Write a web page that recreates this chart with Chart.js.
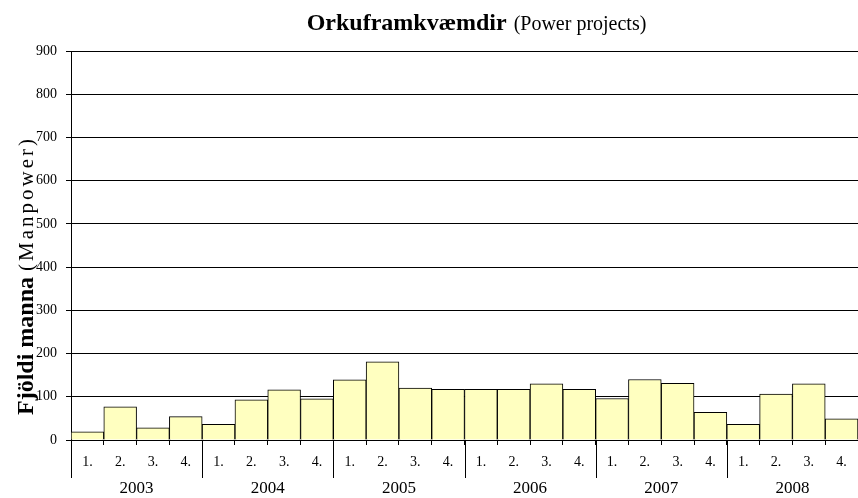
<!DOCTYPE html>
<html><head><meta charset="utf-8">
<script src="https://cdn.jsdelivr.net/npm/chart.js@4/dist/chart.umd.min.js"></script>
<style>html,body{margin:0;padding:0;background:#fff}#wrap{width:858px;height:498px;position:relative}</style>
</head><body><div id="wrap"><canvas id="c"></canvas></div>
<script>
// ---- data ----
const years = ['2003', '2004', '2005', '2006', '2007', '2008'];
const quarters = ['1.', '2.', '3.', '4.'];
const manpower = [
  19, 77, 28, 54,
  36, 93, 116, 95,
  139, 181, 120, 117,
  117, 117, 130, 117,
  96, 140, 131, 64,
  36, 106, 130, 49
];
const yMin = 0, yMax = 900, yStep = 100;
const titleBold = 'Orkuframkvæmdir';
const titleNormal = '(Power projects)';
const yTitleBold = 'Fjöldi manna';
const yTitleNormal = '(Manpower)';

// ---- build ----
const labels = [];
years.forEach(() => quarters.forEach(q => labels.push(q)));
const FONT = '"Liberation Serif", "Times New Roman", serif';

const decor = {
  id: 'decor',
  afterDraw(chart) {
    const ctx = chart.ctx, ca = chart.chartArea, xs = chart.scales.x;
    const step = xs.getPixelForValue(1) - xs.getPixelForValue(0);
    ctx.save();
    ctx.strokeStyle = '#000';
    ctx.lineWidth = 1;
    ctx.fillStyle = '#000';
    // year separators and year labels
    years.forEach((y, i) => {
      const first = i * quarters.length;
      const last = first + quarters.length - 1;
      const x0 = Math.round(xs.getPixelForValue(first) - step / 2) + 0.5;
      ctx.beginPath();
      ctx.moveTo(x0, ca.bottom);
      ctx.lineTo(x0, ca.bottom + 38);
      ctx.stroke();
      const xc = (xs.getPixelForValue(first) + xs.getPixelForValue(last)) / 2;
      ctx.font = '17px ' + FONT;
      ctx.textAlign = 'center';
      ctx.textBaseline = 'alphabetic';
      ctx.fillText(y, xc, ca.bottom + 53);
    });
    // chart title
    ctx.textAlign = 'left';
    ctx.textBaseline = 'alphabetic';
    ctx.font = 'bold 24px ' + FONT;
    const wb = ctx.measureText(titleBold).width;
    ctx.font = '20px ' + FONT;
    const wn = ctx.measureText(titleNormal).width;
    const gap = 7;
    const cx = (ca.left + ca.right) / 2 + 12;
    let tx = cx - (wb + gap + wn) / 2;
    ctx.font = 'bold 24px ' + FONT;
    ctx.fillText(titleBold, tx, 30);
    ctx.font = '20px ' + FONT;
    ctx.fillText(titleNormal, tx + wb + gap, 30);
    // y-axis title
    ctx.translate(33, ca.bottom - 25);
    ctx.rotate(-Math.PI / 2);
    ctx.font = 'bold 24px ' + FONT;
    const wyb = ctx.measureText(yTitleBold).width;
    ctx.fillText(yTitleBold, 0, 0);
    ctx.font = '21px ' + FONT;
    try { ctx.letterSpacing = '3px'; } catch (e) {}
    ctx.fillText(yTitleNormal, wyb + 6, 0);
    ctx.restore();
  }
};

new Chart(document.getElementById('c'), {
  type: 'bar',
  data: {
    labels: labels,
    datasets: [{
      data: manpower,
      backgroundColor: '#FFFFC0',
      borderColor: '#000',
      borderWidth: 1,
      barPercentage: 1,
      categoryPercentage: 1
    }]
  },
  options: {
    responsive: true,
    maintainAspectRatio: false,
    animation: false,
    layout: { padding: { top: 51, left: 0, right: 0, bottom: 0 } },
    plugins: { legend: { display: false }, tooltip: { enabled: false }, title: { display: false } },
    scales: {
      x: {
        offset: true,
        ticks: { color: '#000', font: { family: FONT, size: 14 }, padding: 9, maxRotation: 0, autoSkip: false },
        grid: { offset: true, drawOnChartArea: false, tickLength: 5, color: '#000' },
        border: { color: '#000' },
        afterFit(s) { s.height = 58; }
      },
      y: {
        min: yMin, max: yMax,
        ticks: { stepSize: yStep, color: '#000', font: { family: FONT, size: 14 }, padding: 9 },
        grid: { color: '#000', lineWidth: 1, tickLength: 5 },
        border: { color: '#000' },
        afterFit(s) { s.width = 71; }
      }
    }
  },
  plugins: [decor]
});
</script>
</body></html>
